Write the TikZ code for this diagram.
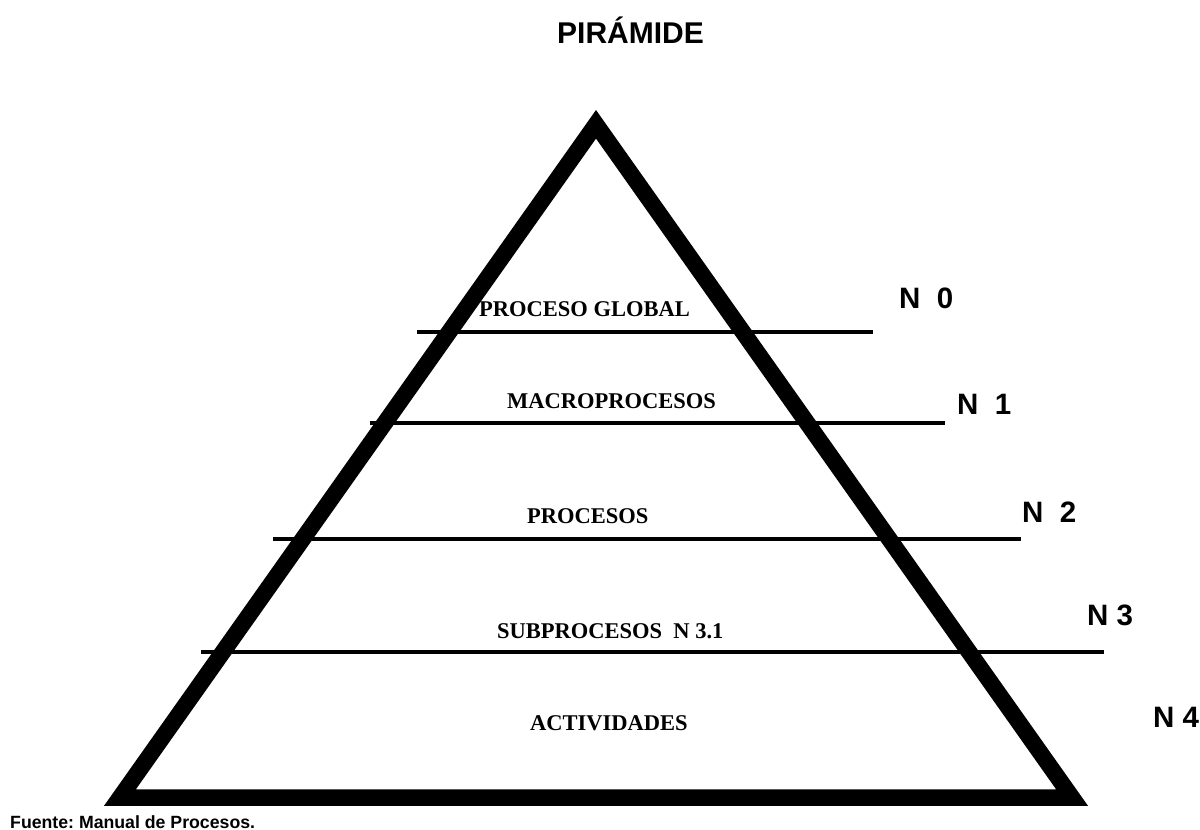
\documentclass[tikz,border=0pt]{standalone}
\usepackage{fontspec}
\setmainfont{Liberation Serif}
\newfontfamily\arialfont{Liberation Sans}
\frenchspacing
\begin{document}
\begin{tikzpicture}[x=1pt,y=-1pt,
  level/.style={line width=3.5pt},
  tier/.style={inner sep=0pt,anchor=base west,font=\fontsize{22.5}{27}\bfseries\selectfont},
  tag/.style={inner sep=0pt,anchor=base west,font=\arialfont\fontsize{29.5}{35}\bfseries\selectfont},
  frame/.style={line width=16.5pt,line join=miter}]
\useasboundingbox (0,0) rectangle (1200,830);

% title
\node[tag,font=\arialfont\fontsize{30}{36}\bfseries\selectfont] (title) at (557,43) {PIRÁMIDE};

% pyramid outline
\coordinate (apex) at (596,124.3);
\coordinate (bl) at (120,797.5);
\coordinate (br) at (1072,797.5);
\draw[frame] (apex) -- (br) -- (bl) -- cycle;

% level dividers
\coordinate (l0a) at (417,332);  \coordinate (l0b) at (873,332);
\coordinate (l1a) at (370,423);  \coordinate (l1b) at (945,423);
\coordinate (l2a) at (273,539);  \coordinate (l2b) at (1021,539);
\coordinate (l3a) at (201,652);  \coordinate (l3b) at (1104,652);
\draw[level] (l0a) -- (l0b);
\draw[level] (l1a) -- (l1b);
\draw[level] (l2a) -- (l2b);
\draw[level] (l3a) -- (l3b);

% tier names
\node[tier] (t0) at (479,316) {PROCESO GLOBAL};
\node[tier] (t1) at (507,408) {MACROPROCESOS};
\node[tier] (t2) at (527,523) {PROCESOS};
\node[tier] (t3) at (497,638) {SUBPROCESOS\ \ N 3.1};
\node[tier] (t4) at (530,730) {ACTIVIDADES};

% level tags
\node[tag] (n0) at (899,308) {N\ \ 0};
\node[tag] (n1) at (957,414) {N\ \ 1};
\node[tag] (n2) at (1022,522) {N\ \ 2};
\node[tag] (n3) at (1087,625) {N 3};
\node[tag] (n4) at (1153,727) {N 4};

% source note
\node[inner sep=0pt,anchor=base west,font=\arialfont\fontsize{17.7}{21}\bfseries\selectfont] (src) at (10,828) {Fuente: Manual de Procesos.};
\end{tikzpicture}
\end{document}
